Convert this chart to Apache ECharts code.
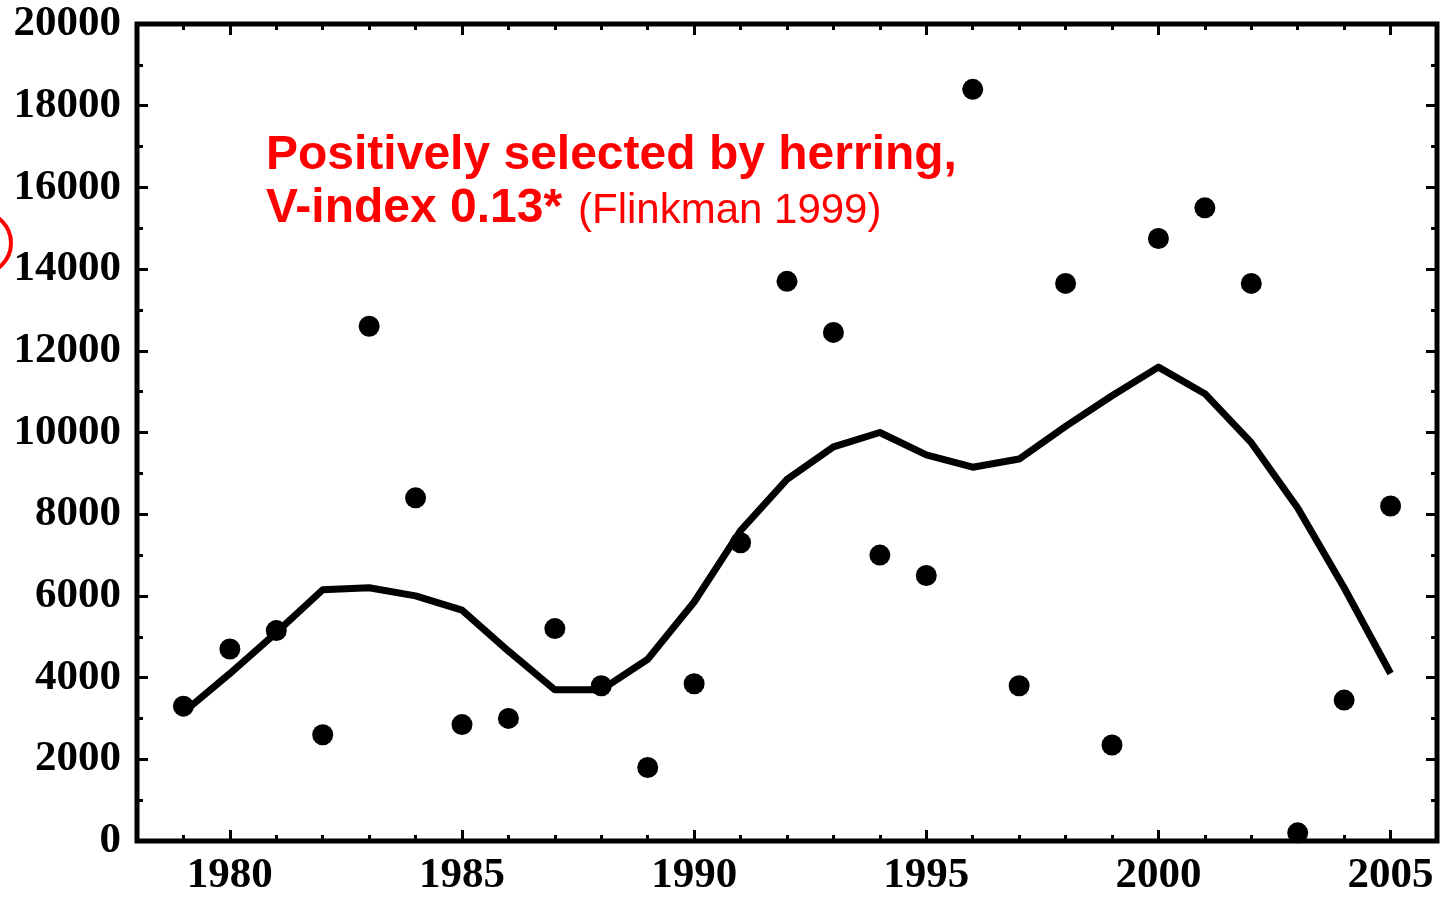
<!DOCTYPE html>
<html>
<head>
<meta charset="utf-8">
<script src="https://cdn.jsdelivr.net/npm/echarts@6/dist/echarts.min.js"></script>
<style>
html,body{margin:0;padding:0;background:#fff;}
#chart{width:1447px;height:897px;}
</style>
</head>
<body>
<div id="chart"></div>
<script>
const years = [1979,1980,1981,1982,1983,1984,1985,1986,1987,1988,1989,1990,1991,1992,1993,1994,1995,1996,1997,1998,1999,2000,2001,2002,2003,2004,2005];
const observed = [3300,4700,5150,2600,12600,8400,2850,3000,5200,3800,1800,3850,7300,13700,12450,7000,6500,18400,3800,13650,2350,14750,15500,13650,200,3450,8200];
const smoothed = [3150,4100,5100,6150,6200,6000,5650,4650,3700,3700,4450,5850,7600,8850,9650,10000,9450,9150,9350,10150,10900,11600,10950,9750,8150,6200,4100];
const xMajorTicks = [1980,1985,1990,1995,2000,2005];
const annotationLine1 = 'Positively selected by herring,';
const annotationLine2Bold = 'V-index 0.13*';
const annotationLine2Normal = '(Flinkman 1999)';

const chart = echarts.init(document.getElementById('chart'));
const labelFont = {fontFamily:'Liberation Serif', fontWeight:'bold', fontSize:43, color:'#000', formatter:(v)=>String(v)};
function xAxisDef(pos, major, showLabel){
  return {
    type:'value', min:1978, max:2006, position:pos, gridIndex:0,
    axisLine:{show:false},
    splitLine:{show:false},
    axisTick:{show:true, inside:true, length: major?11:6, customValues: major?xMajorTicks:years, lineStyle:{color:'#000', width:3}},
    axisLabel:Object.assign({show:showLabel, customValues:xMajorTicks, margin:13}, labelFont)
  };
}
function yAxisDef(pos, showLabel){
  return {
    type:'value', min:0, max:20000, interval:2000, position:pos, gridIndex:0,
    axisLine:{show:false},
    splitLine:{show:false},
    axisTick:{show:true, inside:true, length:11, lineStyle:{color:'#000', width:3}},
    minorTick:{show:true, splitNumber:2, length:6, lineStyle:{color:'#000', width:3}},
    axisLabel:Object.assign({show:showLabel, margin:16}, labelFont)
  };
}
chart.setOption({
  animation:false,
  backgroundColor:'#fff',
  grid:{left:137, right:10, top:24, bottom:56, outerBoundsMode:'none', containLabel:false, show:true, borderColor:'#000', borderWidth:5, backgroundColor:'transparent'},
  xAxis:[xAxisDef('bottom', true, true), xAxisDef('bottom', false, false), xAxisDef('top', true, false), xAxisDef('top', false, false)],
  yAxis:[yAxisDef('left', true), yAxisDef('right', false)],
  series:[
    {type:'line', xAxisIndex:0, yAxisIndex:0, data: years.map((y,i)=>[y, smoothed[i]]), showSymbol:false, lineStyle:{color:'#000', width:7, join:'round'}, z:2},
    {type:'scatter', xAxisIndex:0, yAxisIndex:0, data: years.map((y,i)=>[y, observed[i]]), symbol:'circle', symbolSize:21, itemStyle:{color:'#000', opacity:1}, z:3}
  ],
  graphic:[
    {type:'text', left:266, top:132, style:{text:annotationLine1, fill:'#ff0000', font:'bold 48px "Liberation Sans", Arial, sans-serif'}},
    {type:'text', left:266, top:185, style:{text:annotationLine2Bold, fill:'#ff0000', font:'bold 48px "Liberation Sans", Arial, sans-serif'}},
    {type:'text', left:578, top:190, style:{text:annotationLine2Normal, fill:'#ff0000', font:'42px "Liberation Sans", Arial, sans-serif'}},
    {type:'circle', shape:{cx:-20, cy:243, r:31}, style:{fill:'none', stroke:'#ff0000', lineWidth:4}}
  ]
});
</script>
</body>
</html>
